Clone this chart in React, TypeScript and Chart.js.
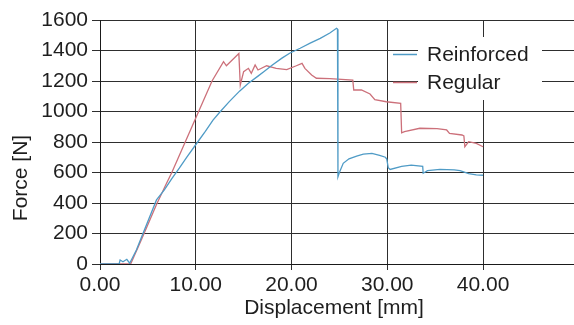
import React, { useEffect, useRef } from "react";
import { Chart, registerables } from "chart.js";

Chart.register(...registerables);

const seriesNames = ["Reinforced", "Regular"];
const seriesColors = ["#4f9bc6", "#cc707a"];

const reinforcedX = [0, 2.0, 2.1, 2.4, 2.8, 3.1, 3.8, 4.5, 5.9, 6.7, 7.5, 8.3, 9.05, 10.2, 11.0, 11.8, 12.5, 13.5, 14.6, 15.5, 16.5, 17.1, 18.0, 19.0, 19.8, 20.9, 22.0, 23.0, 24.0, 24.7, 24.8, 24.85, 25.0, 25.4, 26.0, 26.8, 27.5, 28.4, 29.2, 29.8, 29.95, 30.1, 30.3, 31.5, 32.5, 33.7, 33.75, 34.2, 35.5, 37.0, 37.6, 38.5, 39.3, 40.0];
const reinforcedY = [0, 0, 26, 15, 31, 5, 92, 201, 420, 485, 560, 630, 699, 800, 870, 944, 995, 1065, 1135, 1185, 1232, 1261, 1305, 1350, 1382, 1415, 1450, 1480, 1515, 1546, 1540, 572, 600, 660, 690, 708, 720, 726, 712, 700, 688, 632, 620, 640, 648, 640, 595, 612, 620, 617, 612, 593, 585, 582];

const regularX = [0, 3.2, 4.0, 4.5, 5.9, 6.8, 7.5, 8.9, 10.3, 11.7, 12.9, 13.2, 14.5, 14.65, 15.0, 15.5, 15.8, 16.2, 16.5, 17.4, 18.4, 19.5, 20.5, 21.1, 21.4, 22.1, 22.6, 24.0, 26.4, 26.5, 27.3, 28.2, 28.7, 29.9, 31.4, 31.5, 31.8, 33.4, 35.2, 36.2, 36.5, 37.8, 38.0, 38.1, 38.5, 39.3, 40.0];
const regularY = [0, 0, 113, 185, 390, 510, 600, 800, 1000, 1200, 1327, 1300, 1380, 1174, 1261, 1283, 1250, 1305, 1272, 1300, 1283, 1275, 1300, 1316, 1283, 1239, 1218, 1215, 1206, 1141, 1141, 1115, 1078, 1064, 1053, 860, 868, 890, 888, 879, 857, 846, 840, 769, 802, 791, 769];

const xTitle = "Displacement [mm]";
const yTitle = "Force [N]";
const FONT = '"Liberation Sans", Arial, Helvetica, sans-serif';
const TEXT = "#1e1e1e";
const GRID = "#2e2e2e";

const toPoints = (xs: number[], ys: number[]) => xs.map((x, i) => ({ x, y: ys[i] }));

const overlayPlugin = {
  id: "overlay",
  afterDraw(chart: any) {
    const ctx = chart.ctx as CanvasRenderingContext2D;
    ctx.save();
    ctx.font = `21px ${FONT}`;
    ctx.fillStyle = TEXT;
    ctx.save();
    ctx.translate(21, 178);
    ctx.rotate(-Math.PI / 2);
    ctx.textAlign = "center";
    ctx.textBaseline = "middle";
    ctx.fillText(yTitle, 0, 0);
    ctx.restore();
    ctx.textAlign = "center";
    ctx.textBaseline = "middle";
    ctx.fillText(xTitle, 334, 308);
    ctx.fillStyle = "#ffffff";
    ctx.fillRect(418, 37, 124, 63);
    const rows = [54, 82];
    seriesNames.forEach((name, i) => {
      ctx.strokeStyle = seriesColors[i];
      ctx.lineWidth = 1.5;
      ctx.beginPath();
      ctx.moveTo(393, rows[i] + 0.5);
      ctx.lineTo(417, rows[i] + 0.5);
      ctx.stroke();
      ctx.fillStyle = TEXT;
      ctx.textAlign = "left";
      ctx.textBaseline = "middle";
      ctx.fillText(name, 427, rows[i] + 1);
    });
    ctx.restore();
  },
};

export default function App() {
  const ref = useRef<HTMLCanvasElement | null>(null);
  useEffect(() => {
    document.body.style.margin = "0";
    const canvas = ref.current!;
    const chart = new Chart(canvas, {
      type: "line",
      data: {
        datasets: [
          {
            label: seriesNames[0],
            data: toPoints(reinforcedX, reinforcedY),
            borderColor: seriesColors[0],
            borderWidth: 1.3,
            pointRadius: 0,
            tension: 0,
            fill: false,
          },
          {
            label: seriesNames[1],
            data: toPoints(regularX, regularY),
            borderColor: seriesColors[1],
            borderWidth: 1.3,
            pointRadius: 0,
            tension: 0,
            fill: false,
          },
        ],
      },
      options: {
        animation: false,
        responsive: false,
        maintainAspectRatio: false,
        layout: { padding: { top: 20, right: 0, left: 0, bottom: 0 } },
        plugins: { legend: { display: false }, tooltip: { enabled: false }, title: { display: false } },
        scales: {
          x: {
            type: "linear",
            min: 0,
            max: 49.5,
            afterBuildTicks: (scale: any) => {
              scale.ticks = scale.ticks.filter((t: any) => Math.abs(t.value % 10) < 1e-6 && t.value <= 40);
            },
            afterFit: (scale: any) => {
              scale.height = 61;
            },
            ticks: {
              stepSize: 10,
              autoSkip: false,
              maxRotation: 0,
              padding: 3,
              color: TEXT,
              font: { family: FONT, size: 21 },
              callback: (v: any) => Number(v).toFixed(2),
            },
            grid: { color: GRID, lineWidth: 1, tickLength: 6, drawTicks: true },
            border: { display: true, color: "#1a1a1a", width: 1 },
          },
          y: {
            type: "linear",
            min: 0,
            max: 1600,
            afterFit: (scale: any) => {
              scale.width = 100;
            },
            ticks: {
              stepSize: 200,
              padding: 4,
              color: TEXT,
              font: { family: FONT, size: 21 },
              callback: (v: any) => String(v),
            },
            grid: { color: GRID, lineWidth: 1, tickLength: 8, drawTicks: true },
            border: { display: true, color: "#1a1a1a", width: 1 },
          },
        },
      },
      plugins: [overlayPlugin],
    });
    return () => chart.destroy();
  }, []);
  return <canvas ref={ref} width={574} height={325} style={{ display: "block" }} />;
}
